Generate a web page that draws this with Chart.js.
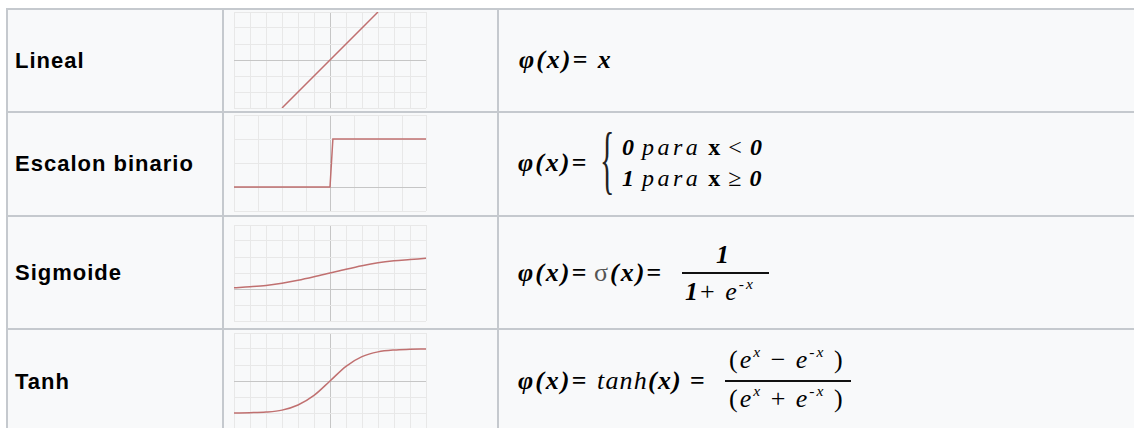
<!DOCTYPE html>
<html>
<head>
<meta charset="utf-8">
<script src="https://cdn.jsdelivr.net/npm/chart.js@4.4.0/dist/chart.umd.min.js"></script>
<style>
  body { margin: 0; width: 1134px; height: 428px; overflow: hidden; background: #fff; position: relative; }
  .tbl { position: absolute; left: 7px; top: 8px; right: 0; height: 440px; background: #f8f9fa; }
  .hl { position: absolute; left: 7px; right: 0; height: 2px; background: #c5c9ce; }
  .vl { position: absolute; top: 8px; width: 2px; height: 430px; background: #c5c9ce; }
  .lbl { position: absolute; left: 15px; font: bold 22px "Liberation Sans", Arial, sans-serif; letter-spacing: 1px;
         line-height: 1; white-space: nowrap; transform: translateY(-0.8465em); color: #000; }
  .g { position: absolute; font: italic bold 26px "Liberation Serif", "Times New Roman", serif; line-height: 1;
       white-space: nowrap; transform: translateY(-0.8375em); color: #000; letter-spacing: 2px; }
  .s { font-size: 24px; letter-spacing: 1px; }
  .t { letter-spacing: 1.2px; }
  .n { font-weight: normal; }
  .up { font-style: normal; }
  .sp { letter-spacing: 3.5px; }
  .gray { color: #555; font-weight: normal; font-style: normal; }
  sup { font-size: 0.6em; vertical-align: 0.7em; line-height: 0; }
  .bar { position: absolute; height: 2px; background: #111; }
  .brace { position: absolute; font: 40px "Liberation Serif", serif; line-height: 1; color: #222;
           transform-origin: 0 0; transform: scale(0.75, 1.9); }
  .box { position: absolute; left: 233px; width: 194px; height: 98px; }
</style>
</head>
<body>
<div class="tbl"></div>
<div class="hl" style="top:8px"></div>
<div class="hl" style="top:111px"></div>
<div class="hl" style="top:215px"></div>
<div class="hl" style="top:328px"></div>
<div class="vl" style="left:6px"></div>
<div class="vl" style="left:222px"></div>
<div class="vl" style="left:497px"></div>

<div class="lbl" style="top:69px">Lineal</div>
<div class="lbl" style="top:172px">Escalon binario</div>
<div class="lbl" style="top:281px">Sigmoide</div>
<div class="lbl" style="top:390px">Tanh</div>

<div class="box" style="top:11px"><canvas id="c1" width="194" height="98"></canvas></div>
<div class="box" style="top:114px"><canvas id="c2" width="194" height="98"></canvas></div>
<div class="box" style="top:224px"><canvas id="c3" width="194" height="98"></canvas></div>
<div class="box" style="top:332px"><canvas id="c4" width="194" height="98"></canvas></div>

<!-- formulas -->
<div class="g" style="left:519px; top:69px">φ(x)= x</div>

<div class="g" style="left:518px; top:172px">φ(x)=</div>
<div class="brace" style="left:600px; top:122px">{</div>
<div class="g s" style="left:622px; top:155px">0 <span class="n sp">para</span> <span class="up">x</span> <span class="up n">&lt;</span> 0</div>
<div class="g s" style="left:622px; top:186px">1 <span class="n sp">para</span> <span class="up">x</span> <span class="up n">≥</span> 0</div>

<div class="g" style="left:518px; top:282px">φ(x)=</div>
<div class="g" style="left:594px; top:282px"><span class="gray">σ</span>(x)=</div>
<div class="g" style="left:716px; top:264px">1</div>
<div class="bar" style="left:682px; top:272px; width:87px"></div>
<div class="g" style="left:685px; top:301px">1<span class="up n">+</span> <span class="n">e</span><sup class="n">-x</sup></div>

<div class="g" style="left:518px; top:390px">φ(x)=</div>
<div class="g t" style="left:597px; top:390px"><span class="n">tanh</span>(x) =</div>
<div class="g n" style="left:729px; top:369px"><span class="up">(</span>e<sup>x</sup> <span class="up">−</span> e<sup>-x</sup> <span class="up">)</span></div>
<div class="bar" style="left:725px; top:380px; width:126px"></div>
<div class="g n" style="left:729px; top:408px"><span class="up">(</span>e<sup>x</sup> <span class="up">+</span> e<sup>-x</sup> <span class="up">)</span></div>

<script>
// curve samples
const linealX = [-1.5, 1.5];
const linealY = [-1.5, 1.5];

const escalonX = [-2, 0, 0.06, 2];
const escalonY = [0, 0, 1, 1];

const curveX = [-3, -2.5, -2, -1.5, -1, -0.5, 0, 0.5, 1, 1.5, 2, 2.5, 3];
const sigmoidY = [0.04, 0.07, 0.11, 0.18, 0.27, 0.38, 0.5, 0.62, 0.73, 0.82, 0.88, 0.92, 0.96];
const tanhY = [-1.0, -0.99, -0.97, -0.91, -0.75, -0.45, 0, 0.46, 0.76, 0.91, 0.97, 0.99, 1.0];

function gridColor(c) {
  return Math.abs(c.tick.value) < 1e-9 ? "#c6c6c6" : "#e8e8e8";
}

function mini(id, xs, ys, xmin, xmax, xstep, ymin, ymax, ystep, smooth) {
  var ctx = document.getElementById(id);
  return new Chart(ctx, {
    type: "line",
    data: {
      datasets: [
        {
          data: xs.map(function (x, i) { return { x: x, y: ys[i] }; }),
          borderColor: "rgb(192, 112, 112)",
          borderWidth: 1.5,
          pointRadius: 0,
          fill: false,
          cubicInterpolationMode: smooth ? "monotone" : "default",
          tension: 0,
        },
      ],
    },
    options: {
      responsive: false,
      animation: false,
      events: [],
      layout: { padding: 1 },
      plugins: { legend: { display: false }, tooltip: { enabled: false } },
      scales: {
        x: {
          type: "linear", min: xmin, max: xmax,
          ticks: { display: false, stepSize: xstep },
          grid: { color: gridColor, drawTicks: false },
          border: { display: false },
        },
        y: {
          type: "linear", min: ymin, max: ymax,
          ticks: { display: false, stepSize: ystep },
          grid: { color: gridColor, drawTicks: false },
          border: { display: false },
        },
      },
    },
  });
}

mini("c1", linealX, linealY, -3, 3, 0.5, -1.5, 1.5, 0.5, false);
mini("c2", escalonX, escalonY, -2, 2, 0.5, -0.5, 1.5, 0.5, false);
mini("c3", curveX, sigmoidY, -3, 3, 0.5, -1, 2, 0.5, true);
mini("c4", curveX, tanhY, -3, 3, 0.5, -1.5, 1.5, 0.5, true);
</script>
</body>
</html>
